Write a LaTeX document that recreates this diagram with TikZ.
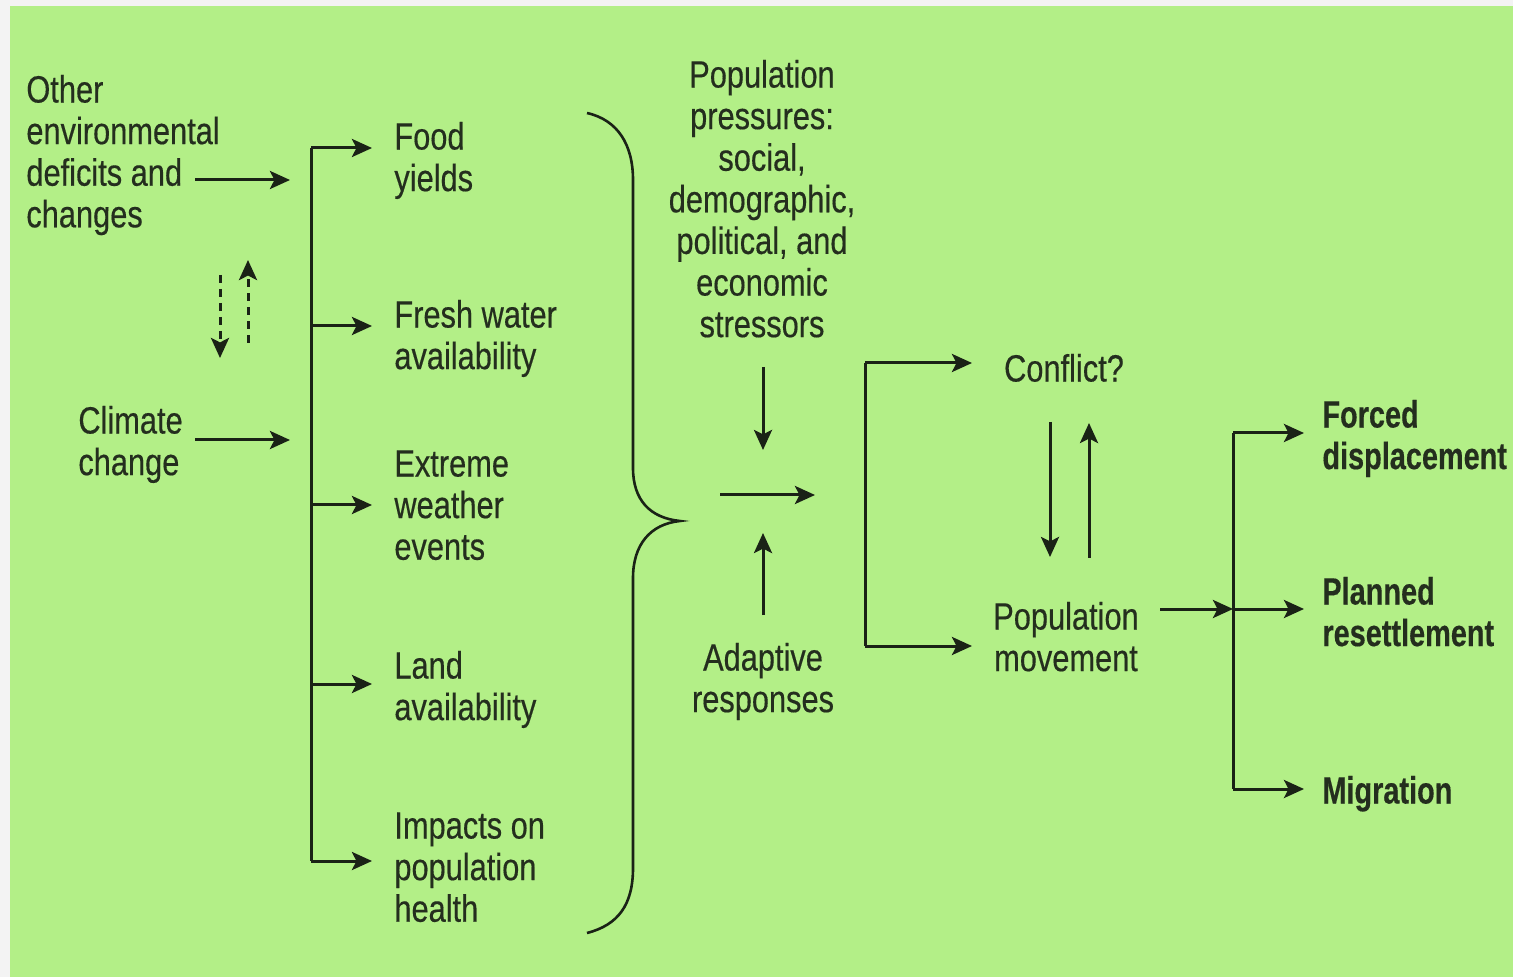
\documentclass[tikz,border=0pt]{standalone}
\usepackage{fontspec}
\usetikzlibrary{arrows.meta}
\newfontfamily\condfont[FakeStretch=0.81,FakeBold=0.35]{Liberation Sans}
\newfontfamily\condbold[FakeStretch=0.76,FakeBold=0.3]{Liberation Sans}
\definecolor{pagegray}{RGB}{243,243,243}
\definecolor{panelgreen}{RGB}{179,239,135}
\definecolor{inkc}{RGB}{36,46,30}
\definecolor{linec}{RGB}{26,34,22}
\newcommand{\blockL}[1]{\begin{tabular}{@{}l@{}}#1\end{tabular}}
\newcommand{\blockC}[1]{\begin{tabular}{@{}c@{}}#1\end{tabular}}
\begin{document}
\begin{tikzpicture}[x=0.5pt,y=-0.5pt,
  lbl/.style={inner sep=0pt, text=inkc, font=\condfont\fontsize{19pt}{20.8pt}\selectfont},
  bld/.style={inner sep=0pt, text=inkc, font=\condbold\bfseries\fontsize{19pt}{20.8pt}\selectfont},
  arr/.style={draw=linec, line width=1.5pt, -{Stealth[length=10pt,width=9pt,inset=2.2pt]}},
  dasharr/.style={arr, dash pattern=on 4pt off 3pt},
  busline/.style={draw=linec, line width=1.5pt},
  bracec/.style={draw=linec, line width=1.3pt}]
\useasboundingbox (0,0) rectangle (1513,977);
% page and panel
\fill[pagegray] (0,0) rectangle (1513,977);
\fill[panelgreen] (10,6) rectangle (1513,977);

% left column: drivers
\node[lbl, anchor=north west] (other) at (26,73) {\blockL{Other\\environmental\\deficits and\\changes}};
\node[lbl, anchor=north west] (climate) at (78,404) {\blockL{Climate\\change}};
\coordinate (o1) at (195,180); \coordinate (o2) at (290,180);
\coordinate (c1) at (195,440); \coordinate (c2) at (290,440);
\draw[arr] (o1) -- (o2);
\draw[arr] (c1) -- (c2);
\coordinate (d1) at (220,275); \coordinate (d2) at (220,358);
\coordinate (u1) at (248,343); \coordinate (u2) at (248,260);
\draw[dasharr] (d1) -- (d2);
\draw[dasharr] (u1) -- (u2);

% impacts column
\node[lbl, anchor=north west] (food) at (394,120) {\blockL{Food\\yields}};
\node[lbl, anchor=north west] (fresh) at (394,298) {\blockL{Fresh water\\availability}};
\node[lbl, anchor=north west] (extreme) at (394,447) {\blockL{Extreme\\weather\\events}};
\node[lbl, anchor=north west] (land) at (394,649) {\blockL{Land\\availability}};
\node[lbl, anchor=north west] (health) at (394,809) {\blockL{Impacts on\\population\\health}};
\coordinate (b1) at (311,148);
\coordinate (b2) at (311,326);
\coordinate (b3) at (311,505);
\coordinate (b4) at (311,684);
\coordinate (b5) at (311,861);
\coordinate (t1) at (372,148);
\coordinate (t2) at (372,326);
\coordinate (t3) at (372,505);
\coordinate (t4) at (372,684);
\coordinate (t5) at (372,861);
\draw[busline] (b1) -- (b5);
\foreach \i in {1,...,5} \draw[arr] (b\i) -- (t\i);

% grouping brace
\draw[bracec] (587,113) .. controls (618,120) and (633,145) .. (633,180)
  -- (633,468) .. controls (633,500) and (650,518) .. (680,521)
  .. controls (650,524) and (633,545) .. (633,578)
  -- (633,868) .. controls (633,905) and (618,925) .. (587,933);

% population pressures and adaptive responses
\node[lbl, anchor=north] (press) at (762,58) {\blockC{Population\\pressures:\\social,\\demographic,\\political, and\\economic\\stressors}};
\node[lbl, anchor=north] (adapt) at (763,641) {\blockC{Adaptive\\responses}};
\coordinate (p1) at (763,367); \coordinate (p2) at (763,450);
\coordinate (a1) at (763,615); \coordinate (a2) at (763,533);
\coordinate (h1) at (720,495); \coordinate (h2) at (815,495);
\draw[arr] (p1) -- (p2);
\draw[arr] (a1) -- (a2);
\draw[arr] (h1) -- (h2);

% conflict and movement
\node[lbl, anchor=north] (conflict) at (1064,352) {\blockC{Conflict?}};
\node[lbl, anchor=north] (move) at (1066,600) {\blockC{Population\\movement}};
\coordinate (m1) at (865,363); \coordinate (m2) at (865,646);
\coordinate (mt1) at (972,363); \coordinate (mt2) at (972,646);
\draw[busline] (m1) -- (m2);
\draw[arr] (m1) -- (mt1);
\draw[arr] (m2) -- (mt2);
\coordinate (cd1) at (1050,422); \coordinate (cd2) at (1050,557);
\coordinate (cu1) at (1089,558); \coordinate (cu2) at (1089,423);
\draw[arr] (cd1) -- (cd2);
\draw[arr] (cu1) -- (cu2);

% outcomes
\node[bld, anchor=north west] (forced) at (1322,398) {\blockL{Forced\\displacement}};
\node[bld, anchor=north west] (planned) at (1322,575) {\blockL{Planned\\resettlement}};
\node[bld, anchor=north west] (migr) at (1322,774) {\blockL{Migration}};
\coordinate (r1) at (1233,433); \coordinate (r2) at (1233,609); \coordinate (r3) at (1233,789);
\coordinate (rt1) at (1304,433); \coordinate (rt2) at (1304,609); \coordinate (rt3) at (1304,789);
\coordinate (mv) at (1160,609);
\draw[busline] (r1) -- (r3);
\draw[arr] (mv) -- (r2);
\draw[arr] (r1) -- (rt1);
\draw[arr] (r2) -- (rt2);
\draw[arr] (r3) -- (rt3);
\end{tikzpicture}
\end{document}
